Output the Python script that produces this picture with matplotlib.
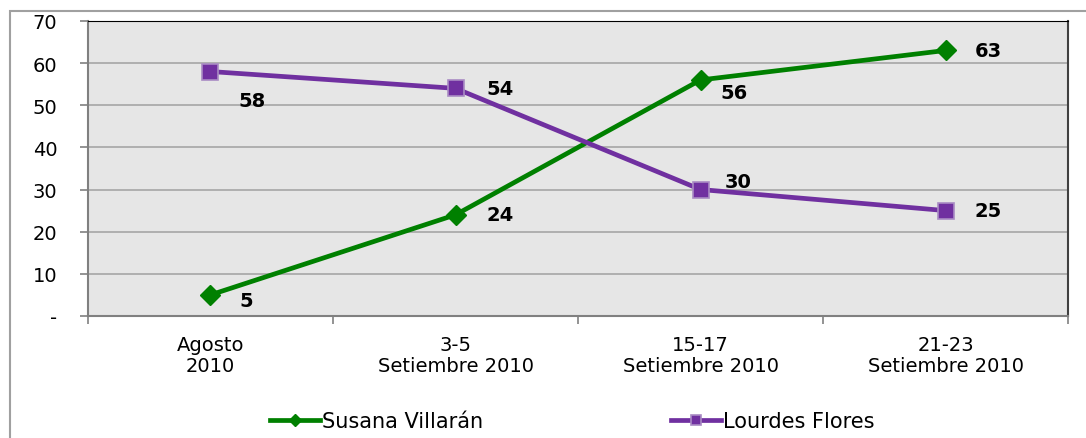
import matplotlib
matplotlib.use('Agg')
import matplotlib.pyplot as plt
from matplotlib.patches import Rectangle
import numpy as np

# poll data
categories = ['Agosto\n2010', '3-5\nSetiembre 2010', '15-17\nSetiembre 2010', '21-23\nSetiembre 2010']
susana = [5, 24, 56, 63]
lourdes = [58, 54, 30, 25]
yticks = [0, 10, 20, 30, 40, 50, 60, 70]
ytick_labels = ['-', '10', '20', '30', '40', '50', '60', '70']

green = '#008000'
purple = '#7030A0'

fig = plt.figure(figsize=(10.86, 4.39), dpi=100)
ax = fig.add_axes([0.081, 0.278, 0.9025, 0.672])
ax.set_facecolor('#E6E6E6')

x = np.arange(len(categories))
ax.plot(x, susana, color=green, linewidth=3.4, marker='D', markersize=10.5,
        markerfacecolor=green, markeredgecolor=green, label='Susana Villarán', zorder=3)
ax.plot(x, lourdes, color=purple, linewidth=3.4, marker='s', markersize=12,
        markerfacecolor=purple, markeredgecolor='#A98BC4', markeredgewidth=1.2,
        label='Lourdes Flores', zorder=3)

# data labels (offsets in points)
s_off = [(26, -4), (32, 0), (24, -9), (31, 0)]
l_off = [(30, -21), (32, 0), (27, 6), (31, 0)]
for i, v in enumerate(susana):
    ax.annotate(str(v), (x[i], v), xytext=s_off[i], textcoords='offset points',
                ha='center', va='center', fontsize=14, fontweight='bold', zorder=4)
for i, v in enumerate(lourdes):
    ax.annotate(str(v), (x[i], v), xytext=l_off[i], textcoords='offset points',
                ha='center', va='center', fontsize=14, fontweight='bold', zorder=4)

ax.set_xlim(-0.5, 3.5)
ax.set_ylim(0, 70)
ax.set_yticks(yticks)
ax.set_yticklabels(ytick_labels)
ax.set_xticks(x)
ax.set_xticklabels(categories, linespacing=1.1)
ax.set_xticks(np.arange(-0.5, 4, 1), minor=True)
ax.tick_params(axis='x', which='major', length=0, labelsize=14, pad=14)
ax.tick_params(axis='x', which='minor', length=6, color='#808080', width=1.2)
ax.tick_params(axis='y', length=6, color='#808080', width=1.2, labelsize=14, pad=16)
ax.grid(axis='y', color='#A6A6A6', linewidth=1.2)
ax.set_axisbelow(True)

ax.spines['top'].set_color('black')
ax.spines['right'].set_color('#404040')
ax.spines['left'].set_color('#808080')
ax.spines['bottom'].set_color('#808080')
ax.spines['left'].set_linewidth(1.5)
ax.spines['bottom'].set_linewidth(1.5)
ax.spines['right'].set_linewidth(1.5)

leg = ax.legend(loc='upper center', bbox_to_anchor=(0.494, -0.26), ncol=2, frameon=False,
                fontsize=15, handlelength=2.4, handletextpad=0.1, columnspacing=9.0,
                markerscale=0.6)

# outer chart frame
fig.patches.append(Rectangle((10 / 1086, -0.05), 1.1, (439 - 12) / 439 + 0.05,
                             transform=fig.transFigure, fill=False,
                             edgecolor='#A0A0A0', linewidth=1.5))

fig.savefig('out.png', dpi=100)
